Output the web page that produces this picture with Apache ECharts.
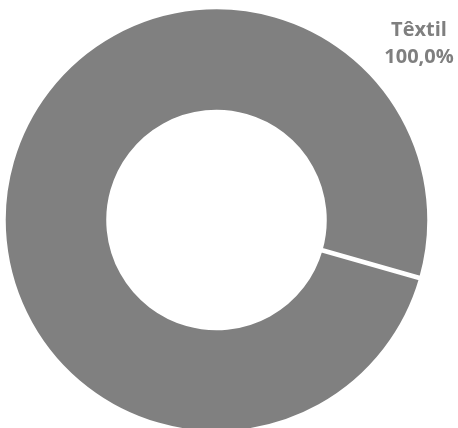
<!DOCTYPE html>
<html>
<head>
<meta charset="utf-8">
<script src="https://cdn.jsdelivr.net/npm/echarts@6/dist/echarts.min.js"></script>
<style>
  html, body { margin: 0; padding: 0; background: #fff; }
  #chart { width: 458px; height: 428px; }
</style>
</head>
<body>
<div id="chart"></div>
<script>
// Sector shares (percent)
const categories = ['Têxtil'];
const shares = [100.0];

const sliceColor = '#808080';

const chart = echarts.init(document.getElementById('chart'), null, { renderer: 'canvas' });

chart.setOption({
  animation: false,
  series: [{
    type: 'pie',
    center: [216.5, 220],
    radius: [108, 213],
    startAngle: -16,
    endAngle: -375.9,
    clockwise: true,
    silent: true,
    itemStyle: {
      color: sliceColor,
      borderColor: '#ffffff',
      borderWidth: 4.5
    },
    label: {
      show: true,
      position: 'center',
      formatter: p => p.name + '\n' + p.value.toFixed(1).replace('.', ',') + '%',
      fontFamily: 'Open Sans',
      fontWeight: 'bold',
      fontSize: 20,
      lineHeight: 27,
      color: '#7f7f7f',
      align: 'center'
    },
    labelLine: { show: false },
    labelLayout: {
      x: 419,
      y: 44,
      align: 'center',
      verticalAlign: 'middle',
      hideOverlap: false
    },
    data: categories.map((name, i) => ({ name, value: shares[i] }))
  }]
});
</script>
</body>
</html>
